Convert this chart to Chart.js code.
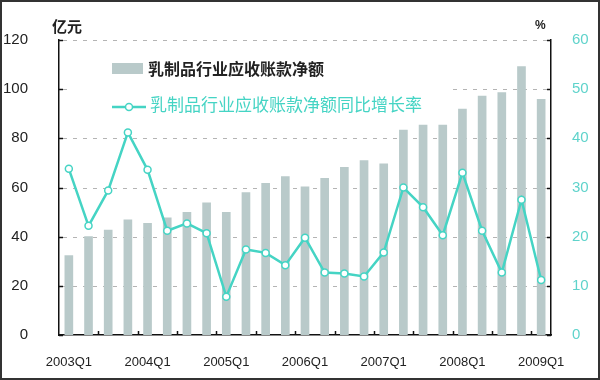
<!DOCTYPE html>
<html>
<head>
<meta charset="utf-8">
<script src="https://cdn.jsdelivr.net/npm/chart.js@4/dist/chart.umd.min.js"></script>
<style>
  html, body { margin: 0; padding: 0; background: #fff; }
  #wrap { position: relative; width: 600px; height: 380px; box-sizing: border-box; border: 2px solid #333; }
  canvas { display: block; }
</style>
</head>
<body>
<div id="wrap"><canvas id="chart1" width="596" height="376"></canvas></div>
<script>
const quarters = ["2003Q1","2003Q2","2003Q3","2003Q4","2004Q1","2004Q2","2004Q3","2004Q4",
  "2005Q1","2005Q2","2005Q3","2005Q4","2006Q1","2006Q2","2006Q3","2006Q4",
  "2007Q1","2007Q2","2007Q3","2007Q4","2008Q1","2008Q2","2008Q3","2008Q4","2009Q1"];
// 亿元
const netReceivables = [32.3, 40.0, 42.7, 46.8, 45.4, 47.7, 49.9, 53.8, 49.9, 57.9, 61.7, 64.4, 60.3,
  63.7, 68.2, 70.9, 69.6, 83.4, 85.4, 85.4, 91.9, 97.2, 98.6, 109.2, 95.9];
// %
const yoyGrowth = [33.8, 22.2, 29.4, 41.2, 33.6, 21.2, 22.7, 20.7, 7.8, 17.4, 16.7, 14.2, 19.8,
  12.7, 12.5, 11.9, 16.8, 30.0, 26.0, 20.3, 33.0, 21.2, 12.7, 27.5, 11.2];
const leftTicks = [0, 20, 40, 60, 80, 100, 120];
const rightTicks = [0, 10, 20, 30, 40, 50, 60];

const barName = "乳制品行业应收账款净额";
const lineName = "乳制品行业应收账款净额同比增长率";
const barColor = "#b9caca";
const lineColor = "#45d4c4";
const cjk = '"Noto Sans CJK SC", sans-serif';

const extras = {
  id: "extras",
  beforeDatasetsDraw(chart) {
    const ctx = chart.ctx;
    const a = chart.chartArea;
    const yl = chart.scales.y;
    ctx.save();
    // dashed grid lines
    ctx.strokeStyle = "#b4b4b4";
    ctx.lineWidth = 1;
    ctx.setLineDash([4, 6]);
    leftTicks.forEach(v => {
      if (v === 0) return;
      const py = Math.round(yl.getPixelForValue(v)) + 0.5;
      ctx.beginPath(); ctx.moveTo(a.left + 4, py); ctx.lineTo(a.right - 2, py); ctx.stroke();
    });
    ctx.setLineDash([]);
    // legend box (covers grid lines)
    ctx.fillStyle = "#fff";
    ctx.fillRect(66, 50, 382, 74);
    ctx.fillStyle = barColor;
    ctx.fillRect(110, 61, 31, 11);
    ctx.font = "bold 16px " + cjk;
    ctx.textBaseline = "middle";
    ctx.fillStyle = "#222";
    ctx.fillText(barName, 146, 67);
    ctx.strokeStyle = lineColor;
    ctx.lineWidth = 2.5;
    ctx.beginPath(); ctx.moveTo(110, 105); ctx.lineTo(144, 105); ctx.stroke();
    ctx.fillStyle = "#fff";
    ctx.lineWidth = 1.5;
    ctx.beginPath(); ctx.arc(127, 105, 3.5, 0, Math.PI * 2); ctx.fill(); ctx.stroke();
    ctx.fillStyle = lineColor;
    ctx.font = "17px " + cjk;
    ctx.fillText(lineName, 148, 103);
    ctx.restore();
  },
  afterDraw(chart) {
    const ctx = chart.ctx;
    const a = chart.chartArea;
    const x = chart.scales.x;
    const yl = chart.scales.y;
    const yr = chart.scales.y1;
    ctx.save();
    ctx.strokeStyle = "#111";
    ctx.lineWidth = 1.5;
    // inward tick marks
    leftTicks.forEach(v => {
      const py = Math.round(yl.getPixelForValue(v)) + 0.5;
      ctx.beginPath(); ctx.moveTo(a.left, py); ctx.lineTo(a.left + 4, py); ctx.stroke();
    });
    rightTicks.forEach(v => {
      const py = Math.round(yr.getPixelForValue(v)) + 0.5;
      ctx.beginPath(); ctx.moveTo(a.right, py); ctx.lineTo(a.right - 4, py); ctx.stroke();
    });
    for (let i = 2; i < quarters.length; i += 2) {
      const px = Math.round((x.getPixelForValue(i - 1) + x.getPixelForValue(i)) / 2) + 0.5;
      ctx.beginPath(); ctx.moveTo(px, a.bottom); ctx.lineTo(px, a.bottom - 4); ctx.stroke();
    }
    // unit labels
    ctx.fillStyle = "#222";
    ctx.font = "bold 15px " + cjk;
    ctx.textBaseline = "middle";
    ctx.fillText("亿元", 50, 24);
    ctx.font = "bold 12px 'Liberation Sans', sans-serif";
    ctx.fillText("%", 533, 24);
    ctx.restore();
  }
};

new Chart("chart1", {
  type: "bar",
  data: {
    labels: quarters,
    datasets: [{
      type: "line",
      label: lineName,
      data: yoyGrowth,
      yAxisID: "y1",
      borderColor: lineColor,
      borderWidth: 2.5,
      pointRadius: 3.5,
      pointBorderWidth: 1.5,
      pointBackgroundColor: "#fff",
      pointBorderColor: lineColor,
      tension: 0,
      order: 0
    }, {
      label: barName,
      data: netReceivables,
      yAxisID: "y",
      backgroundColor: barColor,
      barThickness: 8,
      order: 1
    }]
  },
  options: {
    responsive: false,
    animation: false,
    layout: { padding: { top: 38, left: 0, right: 0, bottom: 0 } },
    plugins: {
      legend: { display: false },
      tooltip: { enabled: false }
    },
    scales: {
      x: {
        offset: true,
        grid: { display: false },
        border: { display: true, color: "#111", width: 1.5 },
        ticks: {
          autoSkip: false,
          maxRotation: 0,
          padding: 12,
          color: "#222",
          font: { family: "'Liberation Sans', sans-serif", size: 13 },
          callback: (v, i) => (i % 4 === 0 ? quarters[i] : "")
        },
        afterFit: s => { s.height = 43; }
      },
      y: {
        position: "left",
        min: 0, max: 120,
        afterBuildTicks: s => { s.ticks = leftTicks.map(v => ({ value: v })); },
        grid: { display: false },
        border: { display: true, color: "#111", width: 1.5 },
        ticks: {
          padding: 23,
          color: "#222",
          font: { family: "'Liberation Sans', sans-serif", size: 15 }
        },
        afterFit: s => { s.width = 57; }
      },
      y1: {
        position: "right",
        min: 0, max: 60,
        afterBuildTicks: s => { s.ticks = rightTicks.map(v => ({ value: v })); },
        grid: { display: false },
        border: { display: true, color: "#111", width: 1.5 },
        ticks: {
          padding: 13,
          color: "#5fd3cb",
          font: { family: "'Liberation Sans', sans-serif", size: 15 }
        },
        afterFit: s => { s.width = 47; }
      }
    }
  },
  plugins: [extras]
});
</script>
</body>
</html>
